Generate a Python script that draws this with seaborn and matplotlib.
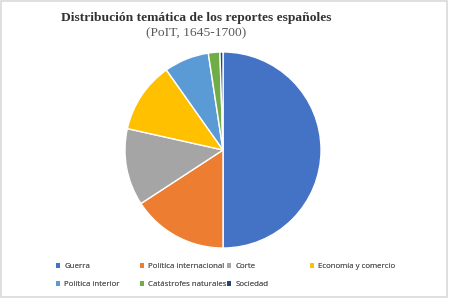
import matplotlib
matplotlib.use("Agg")
import matplotlib.pyplot as plt
from matplotlib.patches import Rectangle, Patch
import seaborn as sns

categories = ["Guerra", "Política internacional", "Corte", "Economía y comercio",
              "Política interior", "Catástrofes naturales", "Sociedad"]
values = [50.0, 15.8, 12.7, 11.7, 7.4, 1.9, 0.5]
colors = ["#4472C4", "#ED7D31", "#A5A5A5", "#FFC000", "#5B9BD5", "#70AD47", "#264478"]
title = "Distribución temática de los reportes españoles"
subtitle = "(PoIT, 1645-1700)"

sns.set_theme(style="white")
W, H = 450, 299
fig = plt.figure(figsize=(W / 100, H / 100), dpi=100)
fig.patch.set_facecolor("white")
fig.patches.append(Rectangle((1 / W, 2 / H), 446 / W, 296 / H, transform=fig.transFigure,
                             fill=False, edgecolor="#D9D9D9", linewidth=1.2))

cx, cy, r = 223, 149, 99
ax = fig.add_axes([(cx - r) / W, (cy - r) / H, 2 * r / W, 2 * r / H])
ax.pie(values, colors=colors, startangle=90, counterclock=False,
       wedgeprops=dict(edgecolor="white", linewidth=1.0))
ax.set_xlim(-1.01, 1.01)
ax.set_ylim(-1.01, 1.01)
ax.set_aspect("equal")
ax.axis("off")

fig.text(196 / W, 1 - 18 / H, title, ha="center", va="center",
         family="Liberation Serif", fontweight="bold", fontsize=9.7, color="#333333")
fig.text(196 / W, 1 - 33 / H, subtitle, ha="center", va="center",
         family="Liberation Serif", fontsize=9.7, color="#595959")

# legend: 4 columns with uniform spacing (Excel-like)
cols = [[0, 4], [1, 5], [2, 6], [3]]
xs = [56, 140, 227, 310]
for col, x in zip(cols, xs):
    handles = [Patch(facecolor=colors[i], edgecolor="none") for i in col]
    labels = [categories[i] for i in col]
    leg = fig.legend(handles, labels, loc="upper left",
                     bbox_to_anchor=(x / W, 1 - 263 / H), frameon=False,
                     prop=dict(family="Open Sans", size=5.7), labelcolor="#595959",
                     handlelength=0.55, handleheight=0.55, handletextpad=0.5,
                     labelspacing=1.35, borderpad=0, borderaxespad=0)
    fig.add_artist(leg)

fig.savefig("out.png", dpi=100)
